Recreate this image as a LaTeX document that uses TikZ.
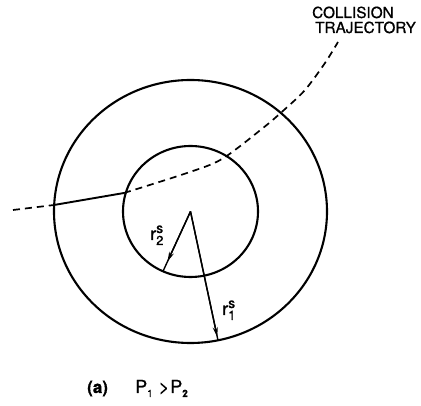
\documentclass[tikz,border=0pt]{standalone}
\usepackage{fontspec}
\setmainfont{TeX Gyre Heros}[FakeBold=0.8]
\usetikzlibrary{arrows.meta,calc}
\newcommand\radlab[1]{r\rlap{\raisebox{7pt}{\fontsize{14}{14}\selectfont s}}\raisebox{-5pt}{\fontsize{13}{13}\selectfont #1}}
\begin{document}
\begin{tikzpicture}[x=1pt,y=-1pt,
  ring/.style={line width=2.1pt},
  traj/.style={line width=1.7pt, dash pattern=on 7pt off 5pt},
  radarrow/.style={line width=1.4pt},
  lbl/.style={inner sep=0pt, anchor=base west}]
\useasboundingbox (0,0) rectangle (421,406);
\coordinate (C) at (190.5,211.5);
\draw[ring] (C) ellipse [x radius=136.5, y radius=131.5];
\draw[ring] (C) ellipse [x radius=67.5, y radius=65.5];
% radii
\coordinate (E2) at (163,271.3);
\coordinate (E1) at (218,340.3);
\draw[radarrow] (C) -- (E2);
\draw[radarrow, -{Stealth[length=10pt,width=5pt]}] (C) -- ($(C)!0.84!(E2)$);
\draw[radarrow] (C) -- (E1);
\draw[radarrow, -{Stealth[length=10pt,width=5pt]}] (C) -- ($(C)!0.975!(E1)$);
% trajectory
\coordinate (T0) at (13,210);
\coordinate (T1) at (54,205);
\coordinate (T2) at (124,193);
\draw[traj] (T0) -- (T1);
\draw[line width=1.9pt] (T1) -- (T2);
\draw[traj] plot[smooth] coordinates {(T2) (187,173) (222,159) (263,128) (284,110) (305,90) (325,63) (338,42)};
% texts
\node[lbl, font=\fontsize{15.3}{15.3}\selectfont] (col) at (312,18) {COLLISION};
\node[lbl, font=\fontsize{15.3}{15.3}\selectfont] (tra) at (315,33) {TRAJECTORY};
\node[lbl, font=\fontsize{18}{18}\selectfont] (r2) at (150,240) {\radlab{2}};
\node[lbl, font=\fontsize{18}{18}\selectfont] (r1) at (222,315) {\radlab{1}};
\node[lbl, font=\bfseries\fontsize{17}{17}\selectfont] (cap) at (87,393) {(a)};
\node[lbl, font=\fontsize{18}{18}\selectfont] (rel) at (135,393) {P\raisebox{-4pt}{\fontsize{10}{10}\selectfont 1}\hspace{6pt}>\hspace{1pt}P\raisebox{-4pt}{\fontsize{10}{10}\selectfont\bfseries 2}};
\end{tikzpicture}
\end{document}
